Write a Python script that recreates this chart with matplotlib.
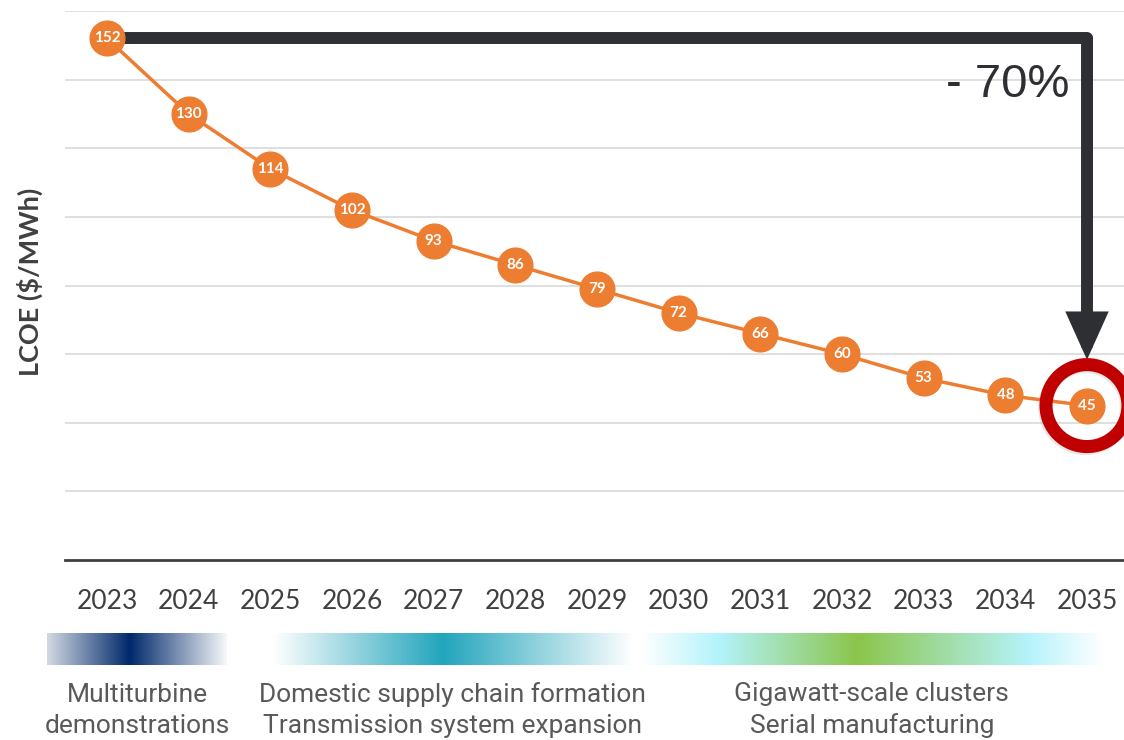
import matplotlib.pyplot as plt
from matplotlib.colors import LinearSegmentedColormap
from matplotlib import patheffects
import numpy as np

plt.rcParams['font.family'] = ['Lato', 'DejaVu Sans']

# LCOE trajectory ($/MWh)
years = [2023, 2024, 2025, 2026, 2027, 2028, 2029, 2030, 2031, 2032, 2033, 2034, 2035]
lcoe = [152, 130, 114, 102, 93, 86, 79, 72, 66, 60, 53, 48, 45]
drop_label = '- 70%'

# Deployment phases shown as colour bands under the axis
phase_labels = ['Multiturbine\ndemonstrations',
                'Domestic supply chain formation\nTransmission system expansion',
                'Gigawatt-scale clusters\nSerial manufacturing']
phase_spans = [(2022.27, 2024.47), (2025.03, 2029.44), (2029.53, 2035.20)]
phase_stops = [
    [(0.0, '#d3d9e3'), (0.46, '#00296b'), (1.0, '#f7f8fa')],
    [(0.0, '#ffffff'), (0.47, '#22a5bc'), (1.0, '#ffffff')],
    [(0.0, '#ffffff'), (0.17, '#b3f3fb'), (0.47, '#8bc54b'), (0.84, '#b5f3fb'), (1.0, '#ffffff')],
]

ORANGE = '#ed7d31'
DARK = '#2d2f33'
RED = '#c00000'

W, H = 1124, 740
fig = plt.figure(figsize=(W / 100, H / 100), dpi=100)
ax = fig.add_axes([65 / W, 180 / H, 1059 / W, 549 / H])
ax.set_xlim(2022.486, 2035.453)
ax.set_ylim(0, 160)

# grid and axis styling
ax.set_yticks(np.arange(20, 161, 20))
ax.yaxis.grid(True, color='#d9d9d9', lw=1.2)
ax.set_axisbelow(True)
ax.tick_params(axis='y', length=0, labelleft=False)
ax.set_xticks(years)
ax.tick_params(axis='x', length=0, pad=21, labelsize=19, labelcolor='#404040')
for side in ['left', 'right', 'top']:
    ax.spines[side].set_visible(False)
ax.spines['bottom'].set_color('#404040')
ax.spines['bottom'].set_linewidth(2)

fig.text(30 / W, 1 - 282 / H, 'LCOE ($/MWh)', rotation=90, ha='center', va='center',
         fontsize=19.5, fontweight='bold', color='#404040')

# bracket from first to last value with arrow down to the final point
ax.plot([years[0], years[-1]], [lcoe[0], lcoe[0]], color=DARK, lw=8.6,
        solid_capstyle='round', zorder=2)
ax.annotate('', xy=(years[-1], lcoe[-1]), xytext=(years[-1], lcoe[0]),
            arrowprops=dict(arrowstyle='-|>,head_length=20,head_width=9', mutation_scale=1,
                            lw=8.6, color=DARK, shrinkA=0, shrinkB=33, joinstyle='miter'),
            zorder=2)
ax.annotate(drop_label, xy=(years[-1], lcoe[0]), xytext=(-13, -42.5), textcoords='offset points',
            ha='right', va='baseline', fontsize=34, color=DARK, family='Liberation Sans')

# LCOE line with labelled markers
ax.plot(years, lcoe, color=ORANGE, lw=2.5, marker='o', markersize=25,
        markeredgecolor=ORANGE, zorder=3)
for x, v in zip(years, lcoe):
    ax.text(x, v, str(v), ha='center', va='center', color='white',
            fontsize=11, fontweight='bold', zorder=4)

# highlight ring on the final year
ring, = ax.plot([years[-1]], [lcoe[-1]], marker='o', markersize=59, markerfacecolor='none',
                markeredgecolor=RED, markeredgewidth=9.4, zorder=5, clip_on=False)
ring.set_path_effects([patheffects.SimpleLineShadow(offset=(-1, -1.5), shadow_color='#909090', alpha=0.2),
                       patheffects.Normal()])

# phase bands: an axes sharing the year scale across the full figure width
x0, x1 = ax.get_xlim()
px = (x1 - x0) / 1059
band = fig.add_axes([0, 75 / H, 1, 32 / H])
band.axis('off')
grad = np.linspace(0, 1, 512).reshape(1, -1)
for (a, b), stops, label in zip(phase_spans, phase_stops, phase_labels):
    cmap = LinearSegmentedColormap.from_list('phase', stops)
    band.imshow(grad, cmap=cmap, aspect='auto', extent=(a, b, 0, 1), interpolation='bilinear')
    band.text((a + b) / 2, -1.42, label, ha='center', va='center', fontsize=19,
              color='#595959', family='Roboto', linespacing=1.36, clip_on=False)
band.set_xlim(x0 - 65 * px, x1)
band.set_ylim(0, 1)

fig.savefig('out.png', dpi=100)
